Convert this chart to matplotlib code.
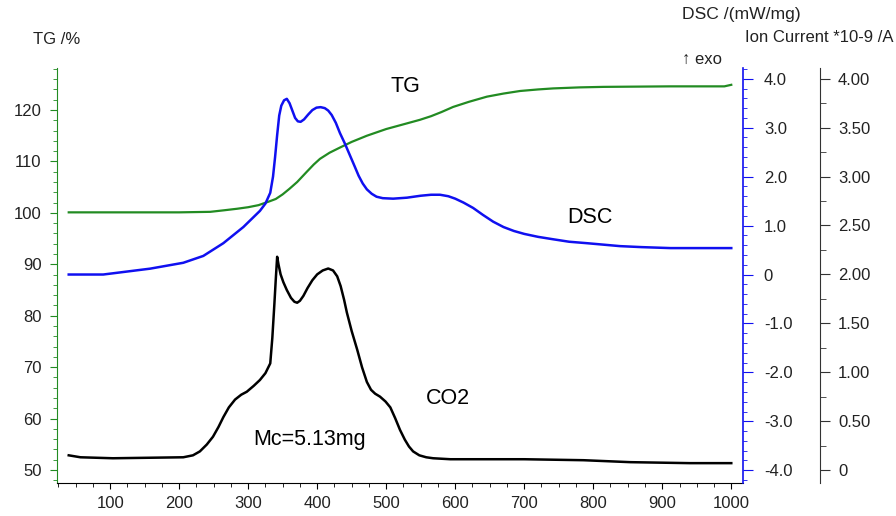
import matplotlib
matplotlib.use("Agg")
import matplotlib.pyplot as plt
from matplotlib.ticker import MultipleLocator, FixedLocator, FixedFormatter

plt.rcParams['font.family'] = ['Liberation Sans', 'DejaVu Sans']

# ---- data ----
tg_T = [40, 100, 200, 245, 265, 284, 300, 315, 330, 340, 350, 360, 371, 385, 395, 404,
        418, 433, 450, 472, 500, 530, 549, 565, 580, 597, 620, 646, 670, 694, 720, 742,
        780, 815, 912, 990, 1000]
tg_v = [100.1, 100.1, 100.1, 100.2, 100.5, 100.8, 101.1, 101.5, 102.2, 102.7, 103.6,
        104.7, 106.0, 108.0, 109.4, 110.5, 111.7, 112.7, 113.8, 115.0, 116.3, 117.4,
        118.1, 118.8, 119.6, 120.6, 121.6, 122.6, 123.2, 123.7, 124.0, 124.2, 124.4,
        124.5, 124.6, 124.6, 124.9]

dsc_T = [40, 90, 158, 206, 235, 264, 293, 317, 325, 332, 336, 339, 342, 345, 348, 352,
         356, 360, 364, 368, 372, 376, 381, 387, 393, 399, 405, 411, 416, 421, 427, 433,
         440, 447, 454, 460, 466, 472, 479, 486, 495, 510, 530, 550, 565, 578, 590, 600,
         612, 626, 640, 655, 670, 685, 700, 720, 742, 765, 791, 815, 839, 870, 912, 960,
         1000]
dsc_v = [0.0, 0.0, 0.12, 0.24, 0.38, 0.64, 0.97, 1.30, 1.45, 1.67, 2.0, 2.4, 2.85, 3.25,
         3.45, 3.56, 3.59, 3.50, 3.35, 3.20, 3.13, 3.12, 3.17, 3.27, 3.36, 3.41, 3.42,
         3.40, 3.35, 3.26, 3.10, 2.89, 2.68, 2.45, 2.22, 2.02, 1.86, 1.74, 1.65, 1.59,
         1.56, 1.55, 1.57, 1.61, 1.63, 1.63, 1.60, 1.55, 1.47, 1.36, 1.22, 1.08, 0.97,
         0.89, 0.83, 0.77, 0.72, 0.67, 0.64, 0.61, 0.58, 0.56, 0.54, 0.54, 0.54]

co2_T = [40, 57, 104, 206, 220, 230, 240, 249, 257, 264, 272, 281, 290, 298, 308, 317,
         325, 332, 335, 338, 340, 342, 344, 347, 351, 356, 362, 367, 371, 375, 380, 386,
         393, 400, 408, 416, 423, 429, 434, 439, 443, 450, 458, 465, 472, 478, 484, 491,
         499, 506, 513, 520, 527, 533, 539, 548, 558, 568, 593, 700, 786, 854, 940, 1000]
co2_v = [0.15, 0.13, 0.12, 0.13, 0.15, 0.19, 0.26, 0.34, 0.44, 0.54, 0.64, 0.72, 0.77,
         0.80, 0.86, 0.92, 0.99, 1.09, 1.35, 1.70, 1.95, 2.18, 2.10, 2.00, 1.92, 1.84,
         1.76, 1.72, 1.71, 1.73, 1.78, 1.86, 1.94, 2.00, 2.04, 2.06, 2.04, 1.98, 1.88,
         1.74, 1.61, 1.42, 1.23, 1.05, 0.90, 0.82, 0.78, 0.75, 0.70, 0.64, 0.53, 0.41,
         0.31, 0.24, 0.19, 0.15, 0.13, 0.12, 0.11, 0.11, 0.10, 0.08, 0.07, 0.07]

x_ticks = [100, 200, 300, 400, 500, 600, 700, 800, 900, 1000]
tg_ticks = [50, 60, 70, 80, 90, 100, 110, 120]
dsc_ticks = [-4.0, -3.0, -2.0, -1.0, 0.0, 1.0, 2.0, 3.0, 4.0]
dsc_labels = ['-4.0', '-3.0', '-2.0', '-1.0', '0', '1.0', '2.0', '3.0', '4.0']
ion_ticks = [0, 0.5, 1.0, 1.5, 2.0, 2.5, 3.0, 3.5, 4.0]
ion_labels = ['0', '0.50', '1.00', '1.50', '2.00', '2.50', '3.00', '3.50', '4.00']

GREEN = '#228B22'
BLUE = '#1010F0'
TXT = '#222222'

fig = plt.figure(figsize=(8.96, 5.16), dpi=100)
ax = fig.add_axes([57/896, 33/516, 686/896, 415/516])
ax2 = ax.twinx()
ax3 = ax.twinx()

ax.plot(tg_T, tg_v, color=GREEN, lw=1.6)
ax2.plot(dsc_T, dsc_v, color=BLUE, lw=1.8)
ax3.plot(co2_T, co2_v, color='black', lw=1.8)

ax.set_xlim(23, 1017)
ax.set_ylim(47.47, 128.17)
ax2.set_ylim(-4.26, 4.22)
ax3.set_ylim(-0.133, 4.11)

# spines
for a in (ax, ax2, ax3):
    a.spines['top'].set_visible(False)
ax.spines['right'].set_visible(False)
ax.spines['left'].set_color(GREEN)
ax.spines['bottom'].set_color('black')
for a in (ax2, ax3):
    a.spines['left'].set_visible(False)
    a.spines['bottom'].set_visible(False)
ax2.spines['right'].set_color(BLUE)
ax2.spines['right'].set_linewidth(1.2)
ax3.spines['right'].set_position(('axes', (820 - 57) / 686))
ax3.spines['right'].set_color('#333333')

# x ticks
ax.xaxis.set_major_locator(FixedLocator(x_ticks))
ax.xaxis.set_minor_locator(MultipleLocator(25))
ax.tick_params(axis='x', which='major', direction='out', length=4, color='black',
               labelsize=12, labelcolor=TXT, pad=5)
ax.tick_params(axis='x', which='minor', direction='out', length=3, color='black')

# TG ticks
ax.yaxis.set_major_locator(FixedLocator(tg_ticks))
ax.yaxis.set_minor_locator(MultipleLocator(2))
ax.tick_params(axis='y', which='major', direction='out', length=5, color=GREEN,
               labelsize=12, labelcolor=TXT, pad=6)
ax.tick_params(axis='y', which='minor', direction='out', length=3, color=GREEN)

# DSC ticks
ax2.yaxis.set_major_locator(FixedLocator(dsc_ticks))
ax2.yaxis.set_major_formatter(FixedFormatter(dsc_labels))
ax2.yaxis.set_minor_locator(MultipleLocator(0.2))
ax2.tick_params(axis='y', which='major', direction='out', length=7, color=BLUE,
                labelsize=12, labelcolor=TXT, pad=8)
ax2.tick_params(axis='y', which='minor', direction='out', length=3, color=BLUE)

# Ion ticks
ax3.yaxis.set_major_locator(FixedLocator(ion_ticks))
ax3.yaxis.set_major_formatter(FixedFormatter(ion_labels))
ax3.yaxis.set_minor_locator(MultipleLocator(0.25))
ax3.tick_params(axis='y', which='major', direction='out', length=7, color='#333333',
                labelsize=12, labelcolor=TXT, pad=6)
ax3.tick_params(axis='y', which='minor', direction='out', length=4, color='#333333')

# header texts (figure pixel coords)
def ftext(x, y, s, size=12, **kw):
    fig.text(x / 896, 1 - y / 516, s, fontsize=size, color=TXT, va='center', **kw)

ftext(33, 39, 'TG /%')
ftext(682, 15, 'DSC /(mW/mg)', size=12.6)
ftext(745, 38, 'Ion Current *10-9 /A')
ftext(682, 59, '\u2191 exo')

# curve annotations
def atext(x, y, s, size=15.5):
    fig.text(x / 896, 1 - y / 516, s, fontsize=size, color='black', ha='center', va='center')

atext(405, 87, 'TG')
atext(590, 217, 'DSC')
atext(448, 398, 'CO2')
atext(310, 440, 'Mc=5.13mg')

fig.savefig('out.png', dpi=100)
